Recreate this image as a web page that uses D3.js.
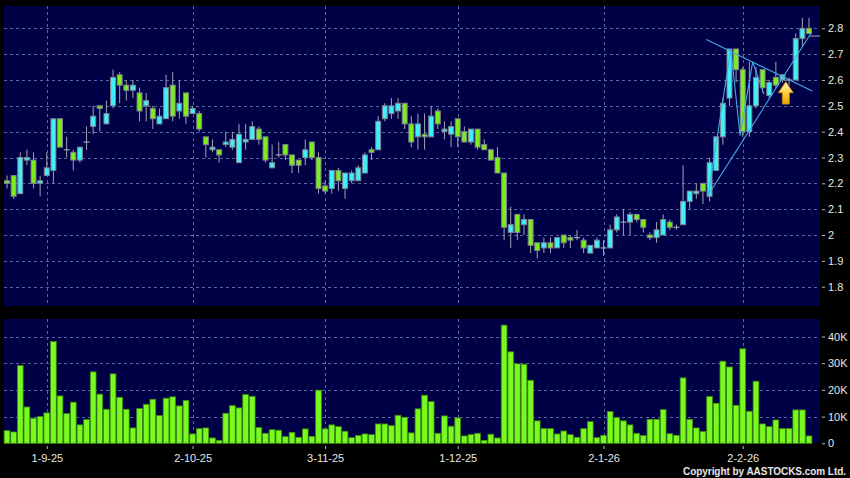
<!DOCTYPE html>
<html lang="en">
<head>
<meta charset="UTF-8">
<title>Chart</title>
<style>
  html, body { margin: 0; padding: 0; background: #000; }
  svg { display: block; }
  text { font-family: Arial, "Liberation Sans", sans-serif; }
</style>
</head>
<body>
<script src="https://d3js.org/d3.v7.min.js"></script>
<script>
// daily candles, oldest first
const open = [2.21, 2.23, 2.16, 2.29, 2.29, 2.20, 2.23, 2.25, 2.45, 2.33,
  2.32, 2.29, 2.36, 2.42, 2.50, 2.43, 2.50, 2.62, 2.58, 2.56,
  2.55, 2.50, 2.49, 2.43, 2.45, 2.58, 2.48, 2.55, 2.47, 2.47,
  2.38, 2.33, 2.33, 2.35, 2.34, 2.28, 2.36, 2.37, 2.41, 2.38,
  2.26, 2.31, 2.35, 2.31, 2.29, 2.30, 2.36, 2.30, 2.19, 2.18,
  2.25, 2.18, 2.21, 2.21, 2.24, 2.33, 2.33, 2.45, 2.47, 2.48,
  2.51, 2.43, 2.38, 2.39, 2.38, 2.48, 2.40, 2.39, 2.45, 2.40,
  2.36, 2.41, 2.35, 2.33, 2.30, 2.24, 2.01, 2.08, 2.04, 2.06,
  1.97, 1.95, 1.97, 1.95, 2.00, 1.99, 1.99, 1.98, 1.93, 1.95,
  1.95, 1.95, 2.02, 2.05, 2.05, 2.08, 2.06, 2.00, 1.99, 2.00,
  2.05, 2.03, 2.04, 2.13, 2.16, 2.20, 2.15, 2.25, 2.38, 2.53,
  2.72, 2.64, 2.40, 2.50, 2.64, 2.54, 2.61, 2.60, 2.60, 2.60,
  2.76, 2.80]
const high = [2.23, 2.23, 2.32, 2.33, 2.32, 2.23, 2.32, 2.45, 2.45, 2.38,
  2.33, 2.34, 2.42, 2.50, 2.50, 2.52, 2.64, 2.63, 2.60, 2.60,
  2.57, 2.55, 2.50, 2.49, 2.62, 2.63, 2.60, 2.55, 2.50, 2.48,
  2.38, 2.37, 2.33, 2.40, 2.40, 2.43, 2.43, 2.44, 2.42, 2.38,
  2.35, 2.36, 2.35, 2.31, 2.29, 2.37, 2.36, 2.32, 2.21, 2.25,
  2.26, 2.24, 2.25, 2.27, 2.32, 2.34, 2.46, 2.51, 2.53, 2.53,
  2.51, 2.46, 2.47, 2.47, 2.50, 2.49, 2.44, 2.44, 2.45, 2.42,
  2.41, 2.41, 2.37, 2.33, 2.34, 2.24, 2.11, 2.08, 2.08, 2.06,
  1.97, 1.99, 1.99, 1.99, 2.00, 2.00, 2.02, 1.99, 1.96, 1.99,
  1.98, 2.04, 2.08, 2.10, 2.09, 2.08, 2.06, 2.01, 2.05, 2.08,
  2.06, 2.04, 2.27, 2.17, 2.20, 2.20, 2.30, 2.38, 2.53, 2.72,
  2.72, 2.65, 2.67, 2.65, 2.64, 2.60, 2.67, 2.62, 2.61, 2.78,
  2.84, 2.84]
const low = [2.18, 2.14, 2.16, 2.27, 2.18, 2.15, 2.23, 2.20, 2.34, 2.30,
  2.25, 2.28, 2.33, 2.39, 2.40, 2.43, 2.49, 2.51, 2.52, 2.53,
  2.44, 2.44, 2.41, 2.43, 2.45, 2.44, 2.45, 2.43, 2.47, 2.40,
  2.30, 2.32, 2.28, 2.34, 2.33, 2.28, 2.33, 2.37, 2.35, 2.28,
  2.26, 2.30, 2.29, 2.24, 2.24, 2.27, 2.29, 2.16, 2.16, 2.16,
  2.17, 2.14, 2.20, 2.21, 2.24, 2.29, 2.33, 2.44, 2.45, 2.45,
  2.41, 2.34, 2.33, 2.33, 2.38, 2.41, 2.37, 2.34, 2.34, 2.36,
  2.35, 2.33, 2.33, 2.29, 2.24, 1.98, 1.95, 1.98, 2.00, 1.93,
  1.91, 1.93, 1.93, 1.95, 1.95, 1.95, 1.98, 1.93, 1.93, 1.95,
  1.92, 1.95, 2.01, 2.00, 2.00, 2.05, 2.01, 1.98, 1.97, 2.00,
  2.02, 2.02, 2.04, 2.10, 2.14, 2.12, 2.13, 2.25, 2.35, 2.50,
  2.59, 2.38, 2.38, 2.49, 2.55, 2.53, 2.57, 2.59, 2.58, 2.60,
  2.73, 2.78]
const close = [2.20, 2.15, 2.30, 2.30, 2.20, 2.21, 2.26, 2.45, 2.34, 2.33,
  2.29, 2.34, 2.36, 2.46, 2.49, 2.47, 2.61, 2.58, 2.56, 2.58,
  2.48, 2.52, 2.45, 2.46, 2.57, 2.46, 2.51, 2.46, 2.49, 2.41,
  2.35, 2.34, 2.31, 2.36, 2.37, 2.39, 2.37, 2.42, 2.37, 2.29,
  2.28, 2.31, 2.31, 2.27, 2.27, 2.33, 2.30, 2.18, 2.17, 2.25,
  2.21, 2.24, 2.24, 2.26, 2.31, 2.32, 2.44, 2.50, 2.50, 2.51,
  2.43, 2.36, 2.43, 2.38, 2.46, 2.43, 2.41, 2.42, 2.38, 2.36,
  2.41, 2.34, 2.33, 2.29, 2.24, 2.03, 2.04, 2.01, 2.06, 1.96,
  1.94, 1.97, 1.95, 1.99, 1.97, 1.98, 1.99, 1.95, 1.96, 1.98,
  1.95, 2.02, 2.07, 2.05, 2.08, 2.06, 2.03, 1.99, 2.02, 2.06,
  2.03, 2.03, 2.13, 2.17, 2.17, 2.17, 2.28, 2.38, 2.51, 2.72,
  2.64, 2.40, 2.50, 2.61, 2.57, 2.59, 2.58, 2.62, 2.60, 2.76,
  2.80, 2.78]
// volume in thousands of shares
const volume = [4.75, 4.25, 29.1, 13.6, 9.4, 10.0, 11.4, 38.1, 17.75, 11.1,
  15.4, 6.9, 8.9, 26.75, 18.4, 12.75, 26.0, 17.25, 12.75, 5.75,
  13.0, 14.6, 16.5, 10.4, 16.9, 17.4, 14.0, 16.1, 3.5, 5.5,
  5.75, 2.0, 1.1, 11.25, 14.1, 13.25, 18.25, 17.6, 5.9, 3.75,
  5.1, 4.9, 2.5, 4.1, 2.25, 5.4, 2.6, 19.9, 5.4, 6.9,
  6.25, 4.5, 2.1, 2.9, 3.5, 3.25, 7.25, 7.25, 6.6, 10.5,
  9.75, 3.9, 12.9, 18.0, 15.6, 3.75, 10.25, 6.4, 9.5, 2.75,
  3.25, 3.75, 1.1, 3.4, 2.0, 44.25, 34.25, 29.75, 29.6, 23.6,
  8.4, 5.5, 5.5, 3.5, 4.6, 3.25, 2.25, 5.5, 8.1, 2.1,
  3.0, 11.9, 9.6, 8.4, 6.9, 3.75, 2.9, 9.0, 9.0, 12.6,
  3.6, 3.0, 24.5, 9.0, 5.75, 4.4, 17.5, 15.0, 30.75, 28.6,
  14.25, 35.4, 12.0, 23.25, 7.25, 6.25, 8.75, 5.5, 5.5, 12.5,
  12.5, 2.75]

const priceTicks = [1.8, 1.9, 2, 2.1, 2.2, 2.3, 2.4, 2.5, 2.6, 2.7, 2.8]
const volTicks = [0, 10, 20, 30, 40]
const dateIdx = [6, 28, 48, 68, 90, 111]
const dateLabels = ['1-9-25', '2-10-25', '3-11-25', '1-12-25', '2-1-26', '2-2-26']

// drawn annotations: [bar index, price]
const resistance = [[105.5, 2.757], [121.5, 2.557]]
const support = [[105.8, 2.155], [121.4, 2.785]]
const zigzag = [[105.8, 2.155], [109.2, 2.72], [110.6, 2.385], [112.5, 2.67], [114.2, 2.545]]
const arrowAt = [117.5, 2.593]
const lastMark = 2.77

const width = 850
const height = 478
const left = 4
const right = 820
const priceTop = 6
const priceBottom = 306
const volTop = 319
const volBottom = 443

const svg = d3.select('body')
  .append('svg')
  .attr('width', width)
  .attr('height', height)

const x = d3.scaleLinear().domain([0, close.length - 1]).range([7, 809])
const y = d3.scaleLinear().domain([1.8, 2.8]).range([286.7, 28.3])
const yv = d3.scaleLinear().domain([0, 40]).range([443.3, 336.5])
const step = x(1) - x(0)

const defs = svg.append('defs')
defs.append('clipPath').attr('id', 'priceClip')
  .append('rect')
  .attr('x', left).attr('y', priceTop)
  .attr('width', right - left).attr('height', priceBottom - priceTop)
const grad = defs.append('linearGradient')
  .attr('id', 'arrowGrad')
  .attr('x1', 0).attr('y1', 0).attr('x2', 0).attr('y2', 1)
grad.append('stop').attr('offset', '0%').attr('stop-color', '#fff6b8')
grad.append('stop').attr('offset', '55%').attr('stop-color', '#ffcc33')
grad.append('stop').attr('offset', '100%').attr('stop-color', '#f0a000')

// panels
svg.append('rect')
  .attr('x', left).attr('y', priceTop)
  .attr('width', right - left).attr('height', priceBottom - priceTop)
  .attr('fill', '#000046')
svg.append('rect')
  .attr('x', left).attr('y', volTop)
  .attr('width', right - left).attr('height', volBottom - volTop)
  .attr('fill', '#000046')

// grid
const gridColor = '#56679c'
const grid = svg.append('g').attr('class', 'grid')
  .attr('stroke', gridColor)
  .attr('stroke-width', 1)
  .attr('stroke-dasharray', '3,3')
grid.selectAll('line.hp')
  .data(priceTicks)
  .join('line')
  .attr('class', 'hp')
  .attr('x1', left).attr('x2', right)
  .attr('y1', d => Math.round(y(d)) + 0.5)
  .attr('y2', d => Math.round(y(d)) + 0.5)
grid.selectAll('line.hv')
  .data(volTicks.filter(d => d > 0))
  .join('line')
  .attr('class', 'hv')
  .attr('x1', left).attr('x2', right)
  .attr('y1', d => Math.round(yv(d)) + 0.5)
  .attr('y2', d => Math.round(yv(d)) + 0.5)
grid.selectAll('line.vp')
  .data(dateIdx)
  .join('line')
  .attr('class', 'vp')
  .attr('x1', d => Math.round(x(d)) + 0.5).attr('x2', d => Math.round(x(d)) + 0.5)
  .attr('y1', priceTop).attr('y2', priceBottom)
grid.selectAll('line.vv')
  .data(dateIdx)
  .join('line')
  .attr('class', 'vv')
  .attr('x1', d => Math.round(x(d)) + 0.5).attr('x2', d => Math.round(x(d)) + 0.5)
  .attr('y1', volTop).attr('y2', volBottom)

// candles
const candles = svg.append('g')
  .attr('clip-path', 'url(#priceClip)')
const idx = d3.range(close.length)
const bodyW = step - 1.7

candles.selectAll('line.wick')
  .data(idx)
  .join('line')
  .attr('class', 'wick')
  .attr('x1', i => x(i)).attr('x2', i => x(i))
  .attr('y1', i => y(high[i])).attr('y2', i => y(low[i]))
  .attr('stroke', '#a2a2b0')
  .attr('stroke-width', 1)

candles.selectAll('rect.body')
  .data(idx.filter(i => Math.abs(close[i] - open[i]) > 0.004))
  .join('rect')
  .attr('class', 'body')
  .attr('x', i => x(i) - bodyW / 2)
  .attr('y', i => y(Math.max(open[i], close[i])))
  .attr('width', bodyW)
  .attr('height', i => Math.abs(y(open[i]) - y(close[i])))
  .attr('fill', i => close[i] > open[i] ? '#3ff0f8' : '#7ded1c')
  .attr('stroke', '#7c8290')
  .attr('stroke-width', 1)

candles.selectAll('line.doji')
  .data(idx.filter(i => Math.abs(close[i] - open[i]) <= 0.004))
  .join('line')
  .attr('class', 'doji')
  .attr('x1', i => x(i) - bodyW / 2 - 0.5).attr('x2', i => x(i) + bodyW / 2 + 0.5)
  .attr('y1', i => y(close[i])).attr('y2', i => y(close[i]))
  .attr('stroke', '#a2a2b0')
  .attr('stroke-width', 1.2)

// annotations
const ann = svg.append('g')
  .attr('clip-path', 'url(#priceClip)')
  .attr('fill', 'none')
  .attr('stroke', '#46a8e6')
  .attr('stroke-width', 1.1)
const line = d3.line().x(d => x(d[0])).y(d => y(d[1]))
ann.append('path').attr('d', line(resistance))
ann.append('path').attr('d', line(support))
ann.append('path').attr('d', line(zigzag)).attr('stroke-linejoin', 'miter')

svg.append('line')
  .attr('x1', x(close.length - 1) + 1).attr('x2', right)
  .attr('y1', y(lastMark)).attr('y2', y(lastMark))
  .attr('stroke', '#9aa6c4')
  .attr('stroke-width', 1)

const ax = x(arrowAt[0])
const ay = y(arrowAt[1])
const arrowPts = [[0, 0], [7.5, 11], [3.5, 11], [3.5, 22.3], [-3.5, 22.3], [-3.5, 11], [-7.5, 11]]
svg.append('path')
  .attr('d', 'M' + arrowPts.map(p => [ax + p[0], ay + p[1]].join(',')).join('L') + 'Z')
  .attr('fill', 'url(#arrowGrad)')
  .attr('stroke', '#c98a10')
  .attr('stroke-width', 0.8)
  .attr('stroke-linejoin', 'round')

// volume bars
svg.append('g')
  .selectAll('rect')
  .data(idx)
  .join('rect')
  .attr('x', i => x(i) - (step - 0.9) / 2)
  .attr('y', i => yv(volume[i]))
  .attr('width', step - 0.9)
  .attr('height', i => yv(0) - yv(volume[i]))
  .attr('fill', '#78fa1e')
  .attr('stroke', '#3f8a12')
  .attr('stroke-width', 0.8)

// axes
function styleAxis(g) {
  g.select('.domain').remove()
  g.selectAll('.tick line').attr('stroke', '#b8b8b8')
  g.selectAll('.tick text')
    .attr('fill', '#e6e6e6')
    .attr('font-size', 11)
    .attr('font-family', 'Arial, "Liberation Sans", sans-serif')
}

svg.append('g')
  .attr('transform', 'translate(822,0)')
  .call(d3.axisRight(y).tickValues(priceTicks).tickSize(3).tickPadding(3).tickFormat(d3.format('')))
  .call(styleAxis)

svg.append('g')
  .attr('transform', 'translate(822,0)')
  .call(d3.axisRight(yv).tickValues(volTicks).tickSize(3).tickPadding(3)
    .tickFormat(d => d === 0 ? '0' : d + 'K'))
  .call(styleAxis)

svg.append('g')
  .attr('transform', 'translate(0,446)')
  .call(d3.axisBottom(x).tickValues(dateIdx).tickSize(3).tickPadding(5)
    .tickFormat((d, i) => dateLabels[i]))
  .call(styleAxis)

svg.append('text')
  .attr('x', 846)
  .attr('y', 475)
  .attr('text-anchor', 'end')
  .attr('fill', '#e6e6e6')
  .attr('font-size', 10)
  .attr('font-weight', 'bold')
  .attr('textLength', 163)
  .attr('lengthAdjust', 'spacing')
  .text('Copyright by AASTOCKS.com Ltd.')
</script>
</body>
</html>
